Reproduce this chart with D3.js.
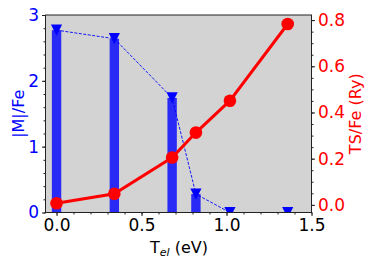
<!DOCTYPE html>
<html>
<head>
<meta charset="utf-8">
<script src="https://cdn.jsdelivr.net/npm/d3@7"></script>
<style>
  body { margin: 0; background: #fff; }
  text { font-family: "DejaVu Sans", sans-serif; }
</style>
</head>
<body>
<svg width="374" height="267"></svg>
<script>
// electronic temperature (eV)
const temps = [0.0, 0.34, 0.68, 0.82, 1.02, 1.36];
// magnetic moment per Fe
const moments = [2.77, 2.64, 1.74, 0.28, 0.0, 0.0];
// entropy term TS per Fe (Ry)
const tsTemps = [0.0, 0.34, 0.68, 0.82, 1.02, 1.36];
const tsValues = [0.007, 0.048, 0.205, 0.313, 0.451, 0.783];

const xTicks = [0.0, 0.5, 1.0, 1.5];
const mTicks = [0, 1, 2, 3];
const tsTicks = [0.0, 0.2, 0.4, 0.6, 0.8];

function main() {
    const svg = d3.select("svg");

    // plot box
    const left = 45.5, right = 311.5, top = 15, bottom = 212.5;

    const x = d3.scaleLinear().domain([-0.065, 1.5]).range([left, right]);
    const yM = d3.scaleLinear().domain([0, 3]).range([bottom, top]);
    const yTS = d3.scaleLinear().domain([-0.033, 0.822]).range([bottom, top]);

    // background
    svg.append("rect")
        .attr("x", left).attr("y", top)
        .attr("width", right - left).attr("height", bottom - top)
        .attr("fill", "#d3d3d3");

    svg.append("clipPath").attr("id", "clip")
        .append("rect")
        .attr("x", left).attr("y", top)
        .attr("width", right - left).attr("height", bottom - top);

    const plot = svg.append("g").attr("clip-path", "url(#clip)");

    // bars of |M|
    plot.selectAll(".bar")
        .data(temps)
        .join("rect")
        .attr("class", "bar")
        .attr("x", (d) => x(d) - 4.7)
        .attr("width", 9.4)
        .attr("y", (d, i) => yM(moments[i]))
        .attr("height", (d, i) => yM(0) - yM(moments[i]))
        .attr("fill", "blue")
        .attr("fill-opacity", 0.8);

    // dashed line through moments
    const mLine = d3.line()
        .x((d) => x(d[0]))
        .y((d) => yM(d[1]));
    plot.append("path")
        .datum(d3.zip(temps, moments))
        .attr("fill", "none")
        .attr("stroke", "blue")
        .attr("stroke-width", 0.9)
        .attr("stroke-dasharray", "3,1.5")
        .attr("d", mLine);

    // triangle markers
    plot.selectAll(".tri")
        .data(d3.zip(temps, moments))
        .join("path")
        .attr("class", "tri")
        .attr("d", (d) => {
            const cx = x(d[0]), cy = yM(d[1]), s = 5.6;
            return `M${cx - s},${cy - s}L${cx + s},${cy - s}L${cx},${cy + s}Z`;
        })
        .attr("fill", "blue");

    // TS line
    const tsLine = d3.line()
        .x((d) => x(d[0]))
        .y((d) => yTS(d[1]));
    plot.append("path")
        .datum(d3.zip(tsTemps, tsValues))
        .attr("fill", "none")
        .attr("stroke", "red")
        .attr("stroke-width", 3)
        .attr("d", tsLine);

    plot.selectAll(".dot")
        .data(d3.zip(tsTemps, tsValues))
        .join("circle")
        .attr("class", "dot")
        .attr("cx", (d) => x(d[0]))
        .attr("cy", (d) => yTS(d[1]))
        .attr("r", 6.3)
        .attr("fill", "red");

    // frame
    svg.append("rect")
        .attr("x", left).attr("y", top)
        .attr("width", right - left).attr("height", bottom - top)
        .attr("fill", "none")
        .attr("stroke", "#222")
        .attr("stroke-width", 1);

    // bottom axis
    const xAxis = svg.append("g")
        .attr("transform", `translate(0, ${bottom})`)
        .call(d3.axisBottom(x).tickValues(xTicks).tickFormat(d3.format(".1f")).tickSize(3.5).tickPadding(3));
    svg.append("g")
        .attr("transform", `translate(0, ${bottom})`)
        .call(d3.axisBottom(x).tickValues(d3.range(0, 16).map((i) => i / 10)).tickFormat("").tickSize(2));

    // left axis
    const mAxis = svg.append("g")
        .attr("transform", `translate(${left}, 0)`)
        .call(d3.axisLeft(yM).tickValues(mTicks).tickFormat(d3.format("d")).tickSize(3.5).tickPadding(3));
    svg.append("g")
        .attr("transform", `translate(${left}, 0)`)
        .call(d3.axisLeft(yM).tickValues(d3.range(0, 16).map((i) => i / 5)).tickFormat("").tickSize(2));

    // right axis
    const tsAxis = svg.append("g")
        .attr("transform", `translate(${right}, 0)`)
        .call(d3.axisRight(yTS).tickValues(tsTicks).tickFormat(d3.format(".1f")).tickSize(3.5).tickPadding(3));
    svg.append("g")
        .attr("transform", `translate(${right}, 0)`)
        .call(d3.axisRight(yTS).tickValues(d3.range(0, 17).map((i) => i / 20)).tickFormat("").tickSize(2));

    svg.selectAll(".domain").remove();
    svg.selectAll(".tick line").attr("stroke", "#222");
    svg.selectAll(".tick text").attr("font-family", "DejaVu Sans").attr("font-size", 17);
    xAxis.selectAll("text").attr("fill", "black");
    mAxis.selectAll("text").attr("fill", "blue");
    tsAxis.selectAll("text").attr("fill", "red");

    // axis titles
    const xt = svg.append("text")
        .attr("x", 179)
        .attr("y", 253)
        .attr("font-size", 16)
        .style("text-anchor", "middle");
    xt.append("tspan").text("T");
    xt.append("tspan").text("el").attr("font-size", 11).attr("font-style", "italic").attr("dy", 3);
    xt.append("tspan").text(" (eV)").attr("dy", -3);

    svg.append("text")
        .text("|M|/Fe")
        .attr("font-size", 16)
        .attr("fill", "blue")
        .attr("transform", `translate(24, ${(top + bottom) / 2}) rotate(-90)`)
        .style("text-anchor", "middle");

    svg.append("text")
        .text("TS/Fe (Ry)")
        .attr("font-size", 16)
        .attr("fill", "red")
        .attr("transform", `translate(361, ${(top + bottom) / 2}) rotate(-90)`)
        .style("text-anchor", "middle");
}

main();
</script>
</body>
</html>
